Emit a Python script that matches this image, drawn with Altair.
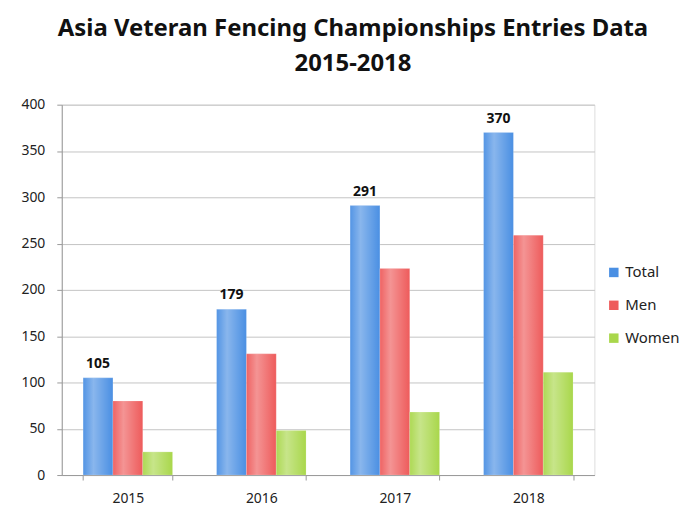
import altair as alt
import pandas as pd

years = ["2015", "2016", "2017", "2018"]
series = ["Total", "Men", "Women"]
total = [105, 179, 291, 370]
men = [80, 131, 223, 259]
women = [25, 48, 68, 111]
colors = ["#4A8FE3", "#EE5B5B", "#A9D74B"]

rows = []
for i, y in enumerate(years):
    for s, vals in zip(series, [total, men, women]):
        rows.append({"year": y, "series": s, "value": vals[i]})
df = pd.DataFrame(rows)

FONT = "Noto Sans"

x = alt.X("year:N", title=None, sort=years,
          scale=alt.Scale(paddingInner=0.33, paddingOuter=0.16),
          axis=alt.Axis(labelAngle=0, labelFontSize=14, labelColor="#222",
                        domainColor="#999", tickColor="#999", tickBand="extent",
                        tickSize=5, labelPadding=12, labelFont=FONT))
xo = alt.XOffset("series:N", sort=series, scale=alt.Scale(paddingInner=0, paddingOuter=0))
y = alt.Y("value:Q", title=None,
          scale=alt.Scale(domain=[0, 400]),
          axis=alt.Axis(values=list(range(0, 401, 50)), labelFontSize=14, labelColor="#222",
                        domainColor="#999", tickColor="#999", tickSize=5, gridColor="#c4c4c4",
                        labelPadding=12, labelFont=FONT))

base = alt.Chart(df)

bars = base.mark_bar(stroke="#ffffff", strokeOpacity=0.35, strokeWidth=0.5).encode(
    x=x, xOffset=xo, y=y,
    color=alt.Color("series:N", sort=series,
                    scale=alt.Scale(domain=series, range=colors),
                    legend=alt.Legend(title=None, orient="none", legendX=547, legendY=161,
                                      symbolType="square", symbolSize=90, labelFontSize=15,
                                      labelFont=FONT, labelColor="#222", rowPadding=17,
                                      symbolStrokeWidth=0)),
)

shine = base.mark_bar(
    fill=alt.Gradient(gradient="linear", x1=0, x2=1, y1=0, y2=0,
                      stops=[alt.GradientStop(color="rgba(255,255,255,0.05)", offset=0),
                             alt.GradientStop(color="rgba(255,255,255,0.35)", offset=0.35),
                             alt.GradientStop(color="rgba(255,255,255,0.0)", offset=1)])
).encode(x=x, xOffset=xo, y=y)

labels = base.transform_filter(alt.datum.series == "Total").mark_text(
    dy=-14, fontSize=14, fontWeight="bold", font=FONT, color="#111"
).encode(x=x, xOffset=xo, y=y, text="value:Q")

chart = alt.layer(bars, shine, labels).properties(
    width=535, height=372,
    padding={"left": 12, "top": 8, "right": 5, "bottom": 5},
    title=alt.TitleParams(["Asia Veteran Fencing Championships Entries Data", "2015-2018"],
                          fontSize=24, fontWeight="bold", font=FONT, color="#111",
                          anchor="middle", lineHeight=35, offset=22, dx=25)
).configure_view(stroke=None).configure(background="white")

chart.save("out.html", embed_options={"renderer": "svg", "actions": False})
